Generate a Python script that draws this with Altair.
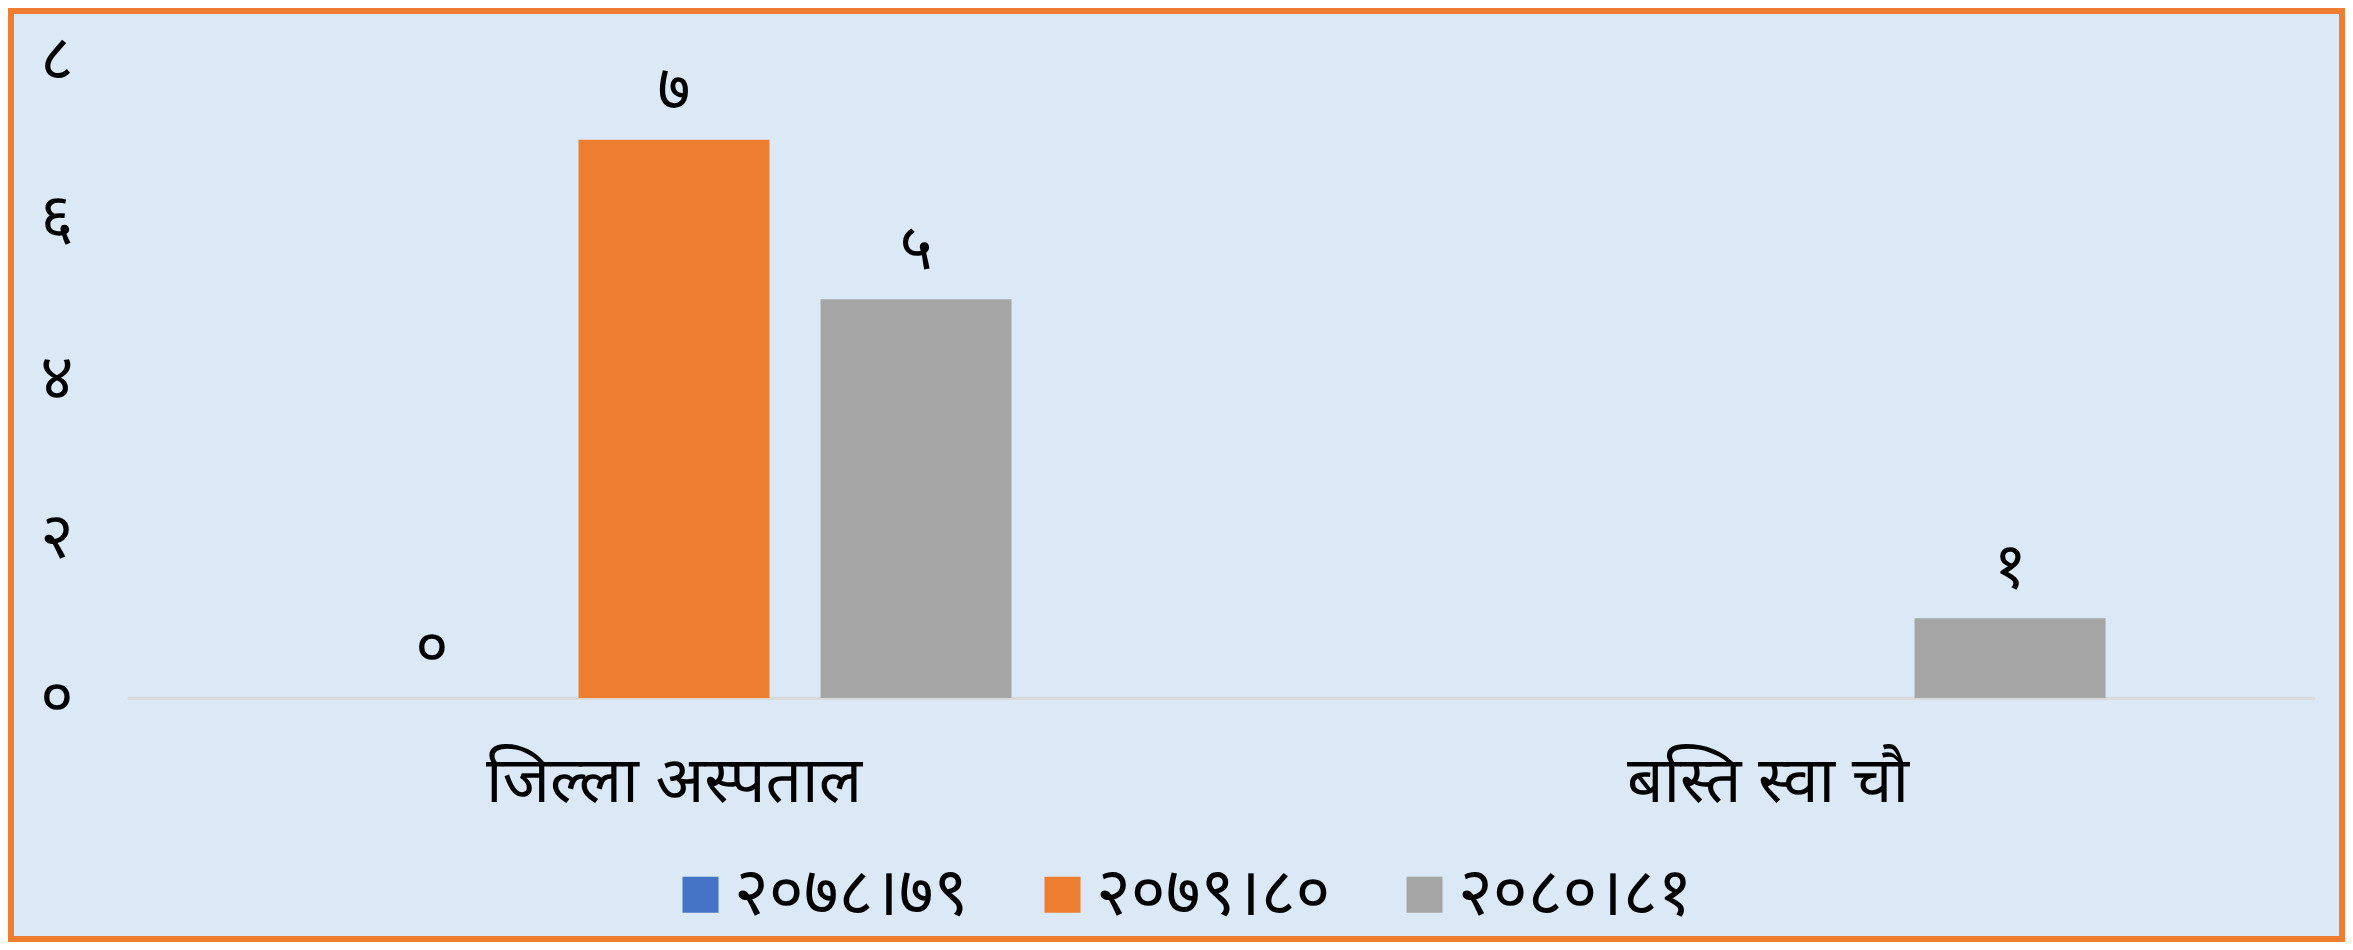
import altair as alt
import pandas as pd

categories = ["जिल्ला अस्पताल", "बस्ति स्वा चौ"]
series = ["२०७८।७९", "२०७९।८०", "२०८०।८१"]
colors = ["#4472C4", "#ED7D31", "#A5A5A5"]

# values per series for each category (None = no bar/label)
v_2078_79 = [0, None]
v_2079_80 = [7, None]
v_2080_81 = [5, 1]

y_ticks = [0, 2, 4, 6, 8]
dev_digits = ["०", "१", "२", "३", "४", "५", "६", "७", "८", "९"]


def to_dev(n):
    return "".join(dev_digits[int(c)] for c in str(int(n)))


rows = []
for s, vals in zip(series, [v_2078_79, v_2079_80, v_2080_81]):
    for c, v in zip(categories, vals):
        if v is None:
            continue
        rows.append({"cat": c, "series": s, "value": v, "label": to_dev(v)})
df = pd.DataFrame(rows)

FONT = "Noto Sans Devanagari, Noto Sans, sans-serif"
W, H = 2188, 638
PAD = {"left": 119, "top": 52, "right": 30, "bottom": 244}

x = alt.X("cat:N", sort=categories,
          scale=alt.Scale(domain=categories, paddingInner=0.383, paddingOuter=0.1915),
          axis=alt.Axis(title=None, labelAngle=0, ticks=False, domain=True,
                        domainColor="#d9d9d9", domainWidth=3,
                        labelFontSize=64, labelPadding=52, labelColor="#000000",
                        labelFont=FONT, labelLimit=0))
xo = alt.XOffset("series:N", sort=series,
                 scale=alt.Scale(domain=series, paddingInner=0.211, paddingOuter=0))
y = alt.Y("value:Q", scale=alt.Scale(domain=[0, 8]),
          axis=alt.Axis(title=None, values=y_ticks, grid=False, ticks=False, domain=False,
                        labelFontSize=64, labelPadding=54, labelColor="#000000",
                        labelFont=FONT,
                        labelExpr="['०','१','२','३','४','५','६','७','८','९'][datum.value]"))
color = alt.Color("series:N", sort=series,
                  scale=alt.Scale(domain=series, range=colors),
                  legend=alt.Legend(title=None, orient="none", direction="horizontal",
                                    legendX=540, legendY=801,
                                    symbolType="square", symbolSize=1296,
                                    symbolStrokeWidth=0,
                                    labelFontSize=67, labelFont=FONT, labelColor="#000000",
                                    columnPadding=60, labelOffset=0, labelLimit=0))

base = alt.Chart(df)
bars = base.mark_bar().encode(x=x, xOffset=xo, y=y, color=color)
texts = base.mark_text(fontSize=64, font=FONT, color="#000000", baseline="alphabetic",
                       dy=-30).encode(x=x, xOffset=xo, y=y, text="label:N")

frame = alt.Chart(pd.DataFrame({"a": [0]})).mark_rect(
    fill=None, stroke="#ED7D31", strokeWidth=6, clip=False
).encode(
    x=alt.value(-PAD["left"] + 3), x2=alt.value(W + PAD["right"] - 3),
    y=alt.value(-PAD["top"] + 3), y2=alt.value(H + PAD["bottom"] - 3),
)

chart = alt.layer(bars, texts, frame).properties(
    width=W, height=H,
    autosize=alt.AutoSizeParams(type="none"),
    padding=PAD,
    background="#dbe8f6",
).configure_view(stroke=None)

chart.save("out.html", embed_options={"renderer": "svg", "actions": False})
